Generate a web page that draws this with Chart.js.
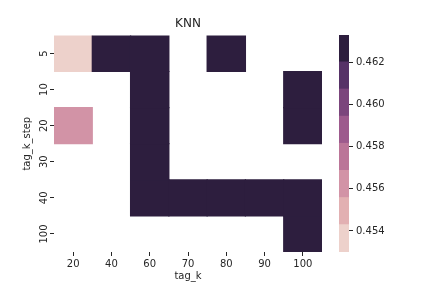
<!DOCTYPE html>
<html>
<head>
<meta charset="utf-8">
<script src="https://cdn.jsdelivr.net/npm/chart.js@4"></script>
<style>
  html, body { margin: 0; padding: 0; background: #fff; }
  .box { position: absolute; left: 0; top: 0; width: 432px; height: 288px; }
</style>
</head>
<body>
<div class="box"><canvas id="heat" width="432" height="288"></canvas></div>
<div class="box"><canvas id="cbar" width="432" height="288"></canvas></div>
<script>
// 数据
const tagK = ['20', '40', '60', '70', '80', '90', '100'];
const tagKStep = ['5', '10', '20', '30', '40', '100'];
// 每行一个 tag_k_step，null 为空白格
const row5   = [0.4535, 0.4633, 0.4633, null, 0.4633, null, null];
const row10  = [null, null, 0.4633, null, null, null, 0.4633];
const row20  = [0.4562, null, 0.4633, null, null, null, 0.4633];
const row30  = [null, null, 0.4633, null, null, null, null];
const row40  = [null, null, 0.4633, 0.4633, 0.4633, 0.4633, 0.4633];
const row100 = [null, null, null, null, null, null, 0.4633];
const rows = [row5, row10, row20, row30, row40, row100];

const vmin = 0.4530;
const vmax = 0.4633;
const cbarTicks = [0.454, 0.456, 0.458, 0.460, 0.462];
const palette = ['#edd1cb', '#e2b0b2', '#d293a6', '#bb7598', '#9d5a8d', '#7b457c', '#563267', '#2d1e3e'];

const textColor = '#262626';
const font = { family: 'DejaVu Sans', size: 10 };

// 值 -> 色带
function colorFor(v) {
    const n = palette.length;
    let i = Math.floor((v - vmin) / (vmax - vmin) * n);
    if (i < 0) i = 0;
    if (i > n - 1) i = n - 1;
    return palette[i];
}

// 热力图：每行一个浮动柱数据集
const heatSets = rows.map(function(row, r) {
    return {
        data: row.map(v => v === null ? null : [r, r + 1]),
        backgroundColor: row.map(v => v === null ? 'rgba(0,0,0,0)' : colorFor(v)),
        borderWidth: 0,
        inflateAmount: 0.6,
        barPercentage: 1,
        categoryPercentage: 1
    };
});

new Chart(document.getElementById('heat'), {
    type: 'bar',
    data: { labels: tagK, datasets: heatSets },
    options: {
        responsive: false,
        animation: false,
        layout: { padding: { left: 0, right: 110, top: 0, bottom: 0 } },
        plugins: {
            legend: { display: false },
            tooltip: { enabled: false },
            title: {
                display: true,
                text: 'KNN',
                fullSize: false,
                color: textColor,
                font: { family: 'DejaVu Sans', size: 12, weight: 'normal' },
                padding: { top: 17, bottom: 4 }
            }
        },
        scales: {
            x: {
                stacked: true,
                offset: true,
                border: { display: false },
                grid: { offset: false, drawOnChartArea: false, tickLength: 4, tickColor: textColor, color: textColor },
                ticks: { color: textColor, font: font, padding: 2, maxRotation: 0 },
                title: { display: true, text: 'tag_k', color: textColor, font: font, padding: { top: 0, bottom: 6 } },
                afterFit: function(s) { s.height = 36; }
            },
            y: {
                stacked: false,
                reverse: true,
                min: 0,
                max: rows.length,
                border: { display: false },
                grid: { drawOnChartArea: false, tickLength: 4, tickColor: textColor, color: textColor },
                afterBuildTicks: function(s) {
                    s.ticks = tagKStep.map((_, i) => ({ value: i + 0.5 }));
                },
                ticks: {
                    color: textColor,
                    font: font,
                    padding: -4,
                    crossAlign: 'center',
                    minRotation: 90,
                    maxRotation: 90,
                    callback: function(v) { return tagKStep[Math.floor(v)]; }
                },
                title: { display: true, text: 'tag_k_step', color: textColor, font: font, padding: { top: 21, bottom: 0 } },
                afterFit: function(s) { s.width = 54; }
            }
        }
    }
});

// 色条
const bandSets = palette.map(function(c, i) {
    const step = (vmax - vmin) / palette.length;
    return {
        data: [[vmin + i * step, vmin + (i + 1) * step]],
        backgroundColor: c,
        borderWidth: 0,
        inflateAmount: 0.6,
        barPercentage: 1,
        categoryPercentage: 1
    };
});

new Chart(document.getElementById('cbar'), {
    type: 'bar',
    data: { labels: [''], datasets: bandSets },
    options: {
        responsive: false,
        animation: false,
        layout: { padding: { left: 339, right: 0, top: 35, bottom: 36 } },
        plugins: { legend: { display: false }, tooltip: { enabled: false } },
        scales: {
            x: { display: false, stacked: true },
            y: {
                position: 'right',
                min: vmin,
                max: vmax,
                border: { display: false },
                grid: { drawOnChartArea: false, tickLength: 4, tickColor: textColor, color: textColor },
                afterBuildTicks: function(s) {
                    s.ticks = cbarTicks.map(v => ({ value: v }));
                },
                ticks: {
                    color: textColor,
                    font: font,
                    padding: 3,
                    callback: function(v) { return v.toFixed(3); }
                },
                afterFit: function(s) { s.width = 83; }
            }
        }
    }
});
</script>
</body>
</html>
